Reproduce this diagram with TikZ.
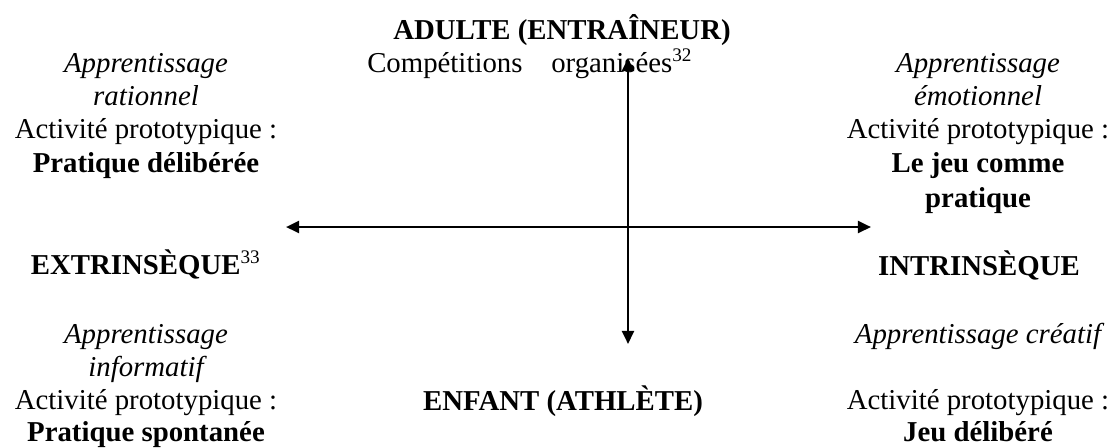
\documentclass[tikz,border=0pt]{standalone}
\usepackage{fontspec}
\setmainfont{Liberation Serif}
\usetikzlibrary{arrows.meta}

\tikzset{
  txt/.style={anchor=base, inner sep=0pt, font=\fontsize{12}{14}\selectfont},
  txtb/.style={txt, font=\fontsize{12}{14}\selectfont\bfseries},
  txti/.style={txt, font=\fontsize{12}{14}\selectfont\itshape},
  axe/.style={line width=1.1pt, {Triangle[length=5.5pt,width=5pt]}-{Triangle[length=5.5pt,width=5pt]}}
}

\begin{document}
\begin{tikzpicture}[x=0.41667pt, y=-0.41667pt]
			%%%%% CADRE %%%%%
			\useasboundingbox (0, 0) rectangle (1113, 447);
			
			%%%%% AXES %%%%%
			\coordinate (haut) at (628, 58);
			\coordinate (bas) at (628, 344);
			\coordinate (gauche) at (286, 227);
			\coordinate (droite) at (871, 227);
			
			\draw[axe] (bas) -- (haut);
			\draw[axe] (gauche) -- (droite);
			
			%%%%% CENTRE %%%%%
			\node[txtb] (adulte) at (562, 39) {ADULTE (ENTRAÎNEUR)};
			\node[txt] (compet) at (530, 72) {Compétitions\hspace{12pt}organisées\textsuperscript{32}};
			\node[txtb] (enfant) at (563, 410) {ENFANT (ATHLÈTE)};
			
			%%%%% HAUT GAUCHE %%%%%
			\node[txti] (hg1) at (146, 72) {Apprentissage};
			\node[txti] (hg2) at (146, 105) {rationnel};
			\node[txt] (hg3) at (146, 138) {Activité prototypique~:};
			\node[txtb] (hg4) at (146, 172) {Pratique délibérée};
			
			%%%%% HAUT DROITE %%%%%
			\node[txti] (hd1) at (978, 72) {Apprentissage};
			\node[txti] (hd2) at (978, 105) {émotionnel};
			\node[txt] (hd3) at (978, 138) {Activité prototypique~:};
			\node[txtb] (hd4) at (978, 172) {Le jeu comme};
			\node[txtb] (hd5) at (978, 207) {pratique};
			
			%%%%% MILIEU %%%%%
			\node[txtb] (extr) at (146, 274) {EXTRINSÈQUE\textsuperscript{\mdseries 33}};
			\node[txtb] (intr) at (979, 275) {INTRINSÈQUE};
			
			%%%%% BAS GAUCHE %%%%%
			\node[txti] (bg1) at (146, 343) {Apprentissage};
			\node[txti] (bg2) at (146, 376) {informatif};
			\node[txt] (bg3) at (146, 409) {Activité prototypique~:};
			\node[txtb] (bg4) at (146, 441) {Pratique spontanée};
			
			%%%%% BAS DROITE %%%%%
			\node[txti] (bd1) at (978, 343) {Apprentissage créatif};
			\node[txt] (bd2) at (978, 409) {Activité prototypique~:};
			\node[txtb] (bd3) at (978, 441) {Jeu délibéré};
			
			%%%%% FIN %%%%%
		\end{tikzpicture}
\end{document}
